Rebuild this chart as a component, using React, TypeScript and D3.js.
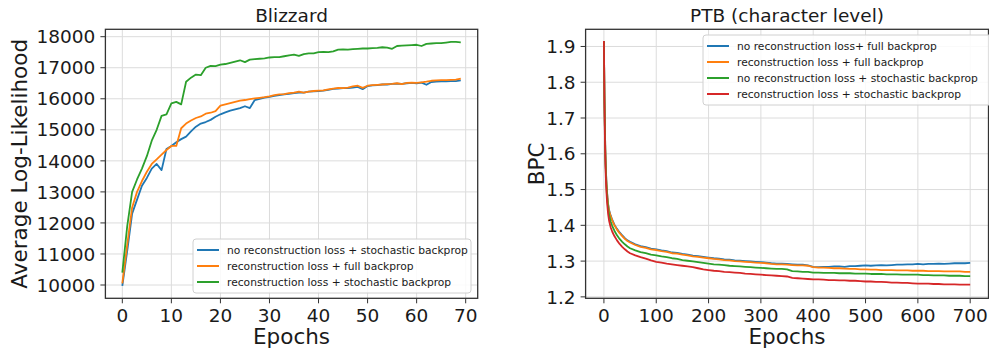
import React from 'react';
import * as d3 from 'd3';

// Blizzard, epochs 0..69
const blizzEpochs = [
  0, 1, 2, 3, 4, 5, 6, 7, 8, 9, 10, 11, 12, 13, 14, 15, 16, 17, 18, 19,
  20, 21, 22, 23, 24, 25, 26, 27, 28, 29, 30, 31, 32, 33, 34, 35, 36, 37, 38, 39,
  40, 41, 42, 43, 44, 45, 46, 47, 48, 49, 50, 51, 52, 53, 54, 55, 56, 57, 58, 59,
  60, 61, 62, 63, 64, 65, 66, 67, 68, 69,
];
const blizzNoRecStoch = [
  9970, 11100, 12300, 12750, 13200, 13450, 13750, 13900, 13700, 14380,
  14480, 14600, 14700, 14780, 14950, 15100, 15200, 15250, 15320, 15420,
  15500, 15560, 15620, 15660, 15700, 15760, 15700, 15960, 16000, 16040,
  16060, 16090, 16120, 16140, 16160, 16180, 16200, 16200, 16230, 16240,
  16250, 16260, 16290, 16320, 16330, 16340, 16340, 16360, 16380, 16310,
  16410, 16430, 16440, 16460, 16460, 16480, 16490, 16480, 16500, 16510,
  16500, 16520, 16450, 16540, 16550, 16560, 16560, 16570, 16570, 16590,
];
const blizzRecFull = [
  10050, 11300, 12500, 13000, 13350, 13650, 13900, 14050, 14200, 14350,
  14480, 14480, 15050, 15200, 15300, 15380, 15430, 15520, 15550, 15600,
  15780, 15820, 15860, 15900, 15940, 15960, 15990, 16010, 16030, 16050,
  16080, 16120, 16140, 16150, 16180, 16200, 16230, 16200, 16230, 16250,
  16260, 16270, 16300, 16330, 16350, 16340, 16360, 16400, 16420, 16350,
  16420, 16440, 16450, 16460, 16470, 16480, 16500, 16470, 16510, 16520,
  16510, 16530, 16550, 16580, 16590, 16600, 16600, 16610, 16620, 16650,
];
const blizzRecStoch = [
  10400, 11900, 13000, 13400, 13750, 14150, 14650, 15000, 15450, 15500,
  15850, 15900, 15820, 16550, 16680, 16780, 16760, 17000, 17060, 17050,
  17100, 17120, 17160, 17200, 17240, 17180, 17260, 17280, 17290, 17300,
  17330, 17340, 17340, 17370, 17400, 17420, 17380, 17440, 17460, 17460,
  17500, 17510, 17500, 17530, 17580, 17590, 17580, 17600, 17610, 17620,
  17620, 17630, 17640, 17660, 17650, 17610, 17700, 17710, 17720, 17730,
  17740, 17700, 17770, 17780, 17790, 17790, 17810, 17830, 17830, 17820,
];
const blizzXTicks = [0, 10, 20, 30, 40, 50, 60, 70];
const blizzYTicks = [10000, 11000, 12000, 13000, 14000, 15000, 16000, 17000, 18000];

// PTB, sampled epochs
const ptbEpochs = [
  0, 1, 2, 3, 4, 5, 6, 8, 10, 13, 16, 20, 25, 30, 35, 40, 45,
  50, 60, 70, 80, 90, 100, 110, 120, 130, 140, 150, 160, 170, 180, 190,
  200, 210, 220, 230, 240, 250, 260, 270, 280, 290, 300, 310, 320, 330, 340,
  350, 360, 370, 380, 390, 400, 410, 420, 430, 440, 450, 460, 470, 480, 490,
  500, 510, 520, 530, 540, 550, 560, 570, 580, 590, 600, 610, 620, 630, 640,
  650, 660, 670, 680, 690, 700,
];
const ptbNoRecFull = [
  1.915, 1.762, 1.662, 1.592, 1.547, 1.517, 1.492, 1.46, 1.442, 1.427, 1.415, 1.402, 1.39, 1.38, 1.372, 1.364, 1.358,
  1.354, 1.347, 1.342, 1.339, 1.335, 1.333, 1.33, 1.328, 1.324, 1.323, 1.32, 1.318, 1.315, 1.314, 1.312,
  1.31, 1.308, 1.307, 1.305, 1.304, 1.302, 1.301, 1.3, 1.299, 1.298, 1.297, 1.296, 1.294, 1.293, 1.293,
  1.292, 1.291, 1.29, 1.29, 1.288, 1.284, 1.283, 1.284, 1.284, 1.285, 1.285, 1.284, 1.286, 1.286, 1.287,
  1.288, 1.287, 1.288, 1.289, 1.288, 1.289, 1.29, 1.29, 1.291, 1.291, 1.292, 1.291, 1.292, 1.292, 1.293,
  1.292, 1.293, 1.294, 1.294, 1.294, 1.295,
];
const ptbRecFull = [
  1.915, 1.76, 1.66, 1.59, 1.545, 1.515, 1.49, 1.458, 1.44, 1.425, 1.413, 1.4, 1.388, 1.378, 1.37, 1.362, 1.356,
  1.352, 1.345, 1.34, 1.337, 1.333, 1.331, 1.328, 1.326, 1.322, 1.321, 1.318, 1.316, 1.313, 1.312, 1.31,
  1.308, 1.306, 1.305, 1.303, 1.302, 1.3, 1.299, 1.298, 1.297, 1.296, 1.295, 1.294, 1.292, 1.291, 1.291,
  1.29, 1.289, 1.288, 1.288, 1.287, 1.283, 1.282, 1.282, 1.281, 1.28, 1.28, 1.279, 1.278, 1.278, 1.277,
  1.277, 1.276, 1.276, 1.275, 1.275, 1.275, 1.274, 1.274, 1.274, 1.273, 1.273, 1.273, 1.272, 1.272, 1.272,
  1.271, 1.271, 1.271, 1.271, 1.27, 1.27,
];
const ptbNoRecStoch = [
  1.915, 1.75, 1.65, 1.58, 1.535, 1.505, 1.48, 1.448, 1.428, 1.41, 1.398, 1.385, 1.372, 1.362, 1.354, 1.347, 1.341,
  1.336, 1.33, 1.325, 1.322, 1.318, 1.316, 1.313, 1.311, 1.308, 1.306, 1.303, 1.301, 1.299, 1.297, 1.295,
  1.293, 1.291, 1.29, 1.289, 1.287, 1.286, 1.285, 1.284, 1.283, 1.282, 1.281, 1.28, 1.279, 1.278, 1.278,
  1.277, 1.272, 1.271, 1.27, 1.27, 1.268, 1.268, 1.267, 1.267, 1.267, 1.266, 1.266, 1.266, 1.265, 1.265,
  1.265, 1.264, 1.264, 1.264, 1.263, 1.263, 1.263, 1.262, 1.262, 1.262, 1.262, 1.261, 1.261, 1.26, 1.26,
  1.26, 1.259, 1.259, 1.259, 1.258, 1.258,
];
const ptbRecStoch = [
  1.915, 1.74, 1.635, 1.565, 1.52, 1.49, 1.465, 1.432, 1.412, 1.394, 1.382, 1.37, 1.358, 1.348, 1.34, 1.333, 1.327,
  1.322, 1.316, 1.311, 1.307, 1.302, 1.298, 1.296, 1.293, 1.291, 1.289, 1.287, 1.285, 1.283, 1.28, 1.277,
  1.275, 1.273, 1.272, 1.27, 1.269, 1.268, 1.267, 1.265, 1.264, 1.263, 1.262, 1.261, 1.26, 1.259, 1.258,
  1.257, 1.253, 1.252, 1.251, 1.25, 1.249, 1.249, 1.248, 1.247, 1.247, 1.246, 1.246, 1.245, 1.245, 1.244,
  1.243, 1.243, 1.242, 1.242, 1.241, 1.24, 1.24, 1.239, 1.239, 1.238, 1.237, 1.237, 1.237, 1.236, 1.236,
  1.235, 1.235, 1.235, 1.234, 1.234, 1.234,
];
const ptbXTicks = [0, 100, 200, 300, 400, 500, 600, 700];
const ptbYTicks = [1.2, 1.3, 1.4, 1.5, 1.6, 1.7, 1.8, 1.9];

const FONT = 'DejaVu Sans';
const BLUE = '#1f77b4';
const ORANGE = '#ff7f0e';
const GREEN = '#2ca02c';
const RED = '#d62728';

type Series = { label: string; color: string; values: number[] };

function Panel(props: {
  left: number; right: number; top: number; bottom: number;
  xDomain: [number, number]; yDomain: [number, number];
  xs: number[]; series: Series[];
  xTicks: number[]; yTicks: number[]; yFmt: (v: number) => string;
  title: string; yLabel: string; yLabelX: number;
  legend: { x: number; y: number; w: number };
  lineWidth: number;
}) {
  const { left, right, top, bottom, xs, series } = props;
  const x = d3.scaleLinear().domain(props.xDomain).range([left, right]);
  const y = d3.scaleLinear().domain(props.yDomain).range([bottom, top]);
  const line = d3.line<number>().x((_, i) => x(xs[i])).y(d => y(d));
  const clipId = 'clip-' + props.title.replace(/\W/g, '');
  const rowH = 16;
  const lg = props.legend;
  return (
    <g>
      <defs>
        <clipPath id={clipId}>
          <rect x={left} y={top} width={right - left} height={bottom - top} />
        </clipPath>
      </defs>
      <rect x={left} y={top} width={right - left} height={bottom - top} fill="#fff" />
      {props.xTicks.map(t => (
        <line key={'gx' + t} x1={x(t)} x2={x(t)} y1={top} y2={bottom} stroke="#dcdcdc" strokeWidth={1} />
      ))}
      {props.yTicks.map(t => (
        <line key={'gy' + t} x1={left} x2={right} y1={y(t)} y2={y(t)} stroke="#dcdcdc" strokeWidth={1} />
      ))}
      <g clipPath={`url(#${clipId})`}>
        {series.map(s => (
          <path key={s.label} d={line(s.values) || ''} fill="none" stroke={s.color}
            strokeWidth={props.lineWidth} strokeLinejoin="round" />
        ))}
      </g>
      <rect x={left} y={top} width={right - left} height={bottom - top} fill="none" stroke="#333" strokeWidth={1.3} />
      {props.xTicks.map(t => (
        <g key={'tx' + t}>
          <line x1={x(t)} x2={x(t)} y1={bottom} y2={bottom + 5} stroke="#333" />
          <text x={x(t)} y={bottom + 24} textAnchor="middle" fontSize={18.5} fontFamily={FONT} fill="#1a1a1a">{t}</text>
        </g>
      ))}
      {props.yTicks.map(t => (
        <g key={'ty' + t}>
          <line x1={left - 5} x2={left} y1={y(t)} y2={y(t)} stroke="#333" />
          <text x={left - 10} y={y(t)} dy="0.36em" textAnchor="end" fontSize={18.5} fontFamily={FONT} fill="#1a1a1a">{props.yFmt(t)}</text>
        </g>
      ))}
      <text x={(left + right) / 2} y={top - 7} textAnchor="middle" fontSize={18.5} fontFamily={FONT} fill="#1a1a1a">{props.title}</text>
      <text x={(left + right) / 2} y={bottom + 46} textAnchor="middle" fontSize={21.5} fontFamily={FONT} fill="#1a1a1a">Epochs</text>
      <text transform={`translate(${props.yLabelX},${(top + bottom) / 2}) rotate(-90)`} textAnchor="middle"
        fontSize={21.5} fontFamily={FONT} fill="#1a1a1a">{props.yLabel}</text>
      <g>
        <rect x={lg.x} y={lg.y} width={lg.w} height={series.length * rowH + 6} rx={3} fill="#fff" fillOpacity={0.85}
          stroke="#d0d0d0" />
        {series.map((s, i) => (
          <g key={'lg' + s.label}>
            <line x1={lg.x + 4} x2={lg.x + 26} y1={lg.y + 11 + i * rowH} y2={lg.y + 11 + i * rowH} stroke={s.color} strokeWidth={2} />
            <text x={lg.x + 34} y={lg.y + 11 + i * rowH} dy="0.35em" fontSize={10.7} fontFamily={FONT} fill="#1a1a1a">{s.label}</text>
          </g>
        ))}
      </g>
    </g>
  );
}

export default function App() {
  const blizzSeries: Series[] = [
    { label: 'no reconstruction loss + stochastic backprop', color: BLUE, values: blizzNoRecStoch },
    { label: 'reconstruction loss + full backprop', color: ORANGE, values: blizzRecFull },
    { label: 'reconstruction loss + stochastic backprop', color: GREEN, values: blizzRecStoch },
  ];
  const ptbSeries: Series[] = [
    { label: 'no reconstruction loss+ full backprop', color: BLUE, values: ptbNoRecFull },
    { label: 'reconstruction loss + full backprop', color: ORANGE, values: ptbRecFull },
    { label: 'no reconstruction loss + stochastic backprop', color: GREEN, values: ptbNoRecStoch },
    { label: 'reconstruction loss + stochastic backprop', color: RED, values: ptbRecStoch },
  ];
  return (
    <svg width={989} height={350} style={{ position: 'absolute', left: 0, top: 0, background: '#fff' }}>
      <Panel left={105.4} right={477.7} top={29.3} bottom={298.3}
        xDomain={[-3.45, 72.45]} yDomain={[9572, 18238]}
        xs={blizzEpochs} series={blizzSeries}
        xTicks={blizzXTicks} yTicks={blizzYTicks} yFmt={v => String(v)}
        title="Blizzard" yLabel="Average Log-Likelihood" yLabelX={27}
        legend={{ x: 193, y: 239, w: 278 }} lineWidth={1.8} />
      <Panel left={585.6} right={988.5} top={29.3} bottom={298.3}
        xDomain={[-35, 735]} yDomain={[1.196, 1.948]}
        xs={ptbEpochs} series={ptbSeries}
        xTicks={ptbXTicks} yTicks={ptbYTicks} yFmt={v => v.toFixed(1)}
        title="PTB (character level)" yLabel="BPC" yLabelX={544}
        legend={{ x: 703, y: 35, w: 290 }} lineWidth={1.8} />
    </svg>
  );
}
